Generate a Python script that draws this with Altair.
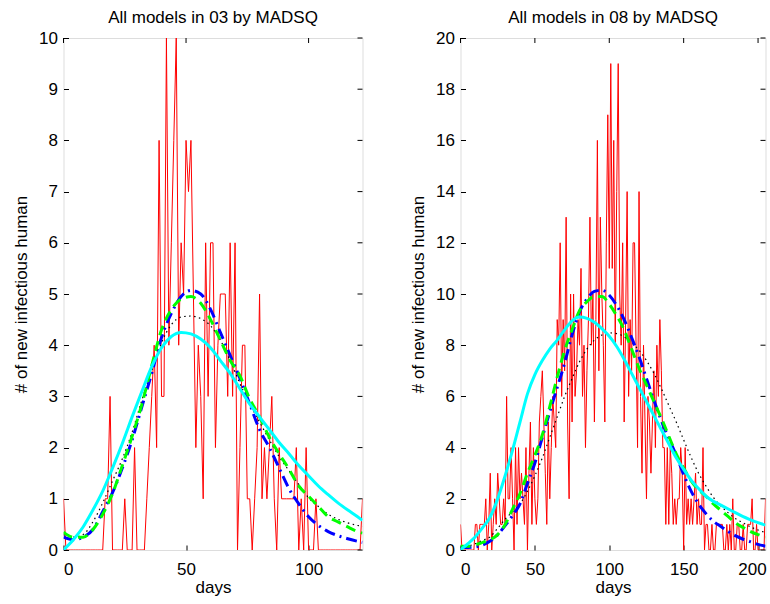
import altair as alt
import pandas as pd

FONT = "Liberation Sans"

# ---------------- Panel 03 (left) ----------------
obs03 = [1,
         0, 0, 0, 0, 0, 0, 0, 0, 0, 0, 0, 0, 0, 0, 0, 0,
         1, 1, 3,
         0, 0, 0, 0, 0,
         1,
         0, 0, 0,
         2,
         0, 0, 0, 0,
         1, 2, 3, 4, 2, 8, 3, 3, 10, 4, 6, 8, 10, 4, 6, 5, 8, 7, 8, 5, 2, 4, 3, 1, 6, 3,
         6, 6, 2, 4, 5, 5, 5, 3, 6, 3, 6, 0, 2, 4, 4, 1, 1, 0, 1, 2, 5, 1, 2, 1, 2, 3,
         1, 0, 2, 1, 1, 1, 1, 1, 1, 2, 0, 1, 0, 2, 0, 0, 0, 1,
         0, 0, 0, 0, 0, 0, 0, 0, 0, 0, 0, 0, 0, 0, 0, 0, 0, 0,
         1]
days03 = list(range(len(obs03)))

grid03 = [0, 4, 8, 12, 16, 20, 24, 28, 32, 36, 40, 44, 48, 52, 56, 60,
          64, 68, 72, 76, 80, 84, 88, 92, 96, 100, 104, 108, 112, 116, 120, 122]
cyan03 = [0.0, 0.2, 0.45, 0.78, 1.15, 1.6, 2.08, 2.6, 3.1, 3.58, 3.95, 4.17, 4.25, 4.22, 4.12, 3.95,
          3.7, 3.45, 3.15, 2.85, 2.6, 2.35, 2.1, 1.88, 1.65, 1.45, 1.25, 1.08, 0.92, 0.78, 0.65, 0.58]
blue03 = [0.25, 0.2, 0.25, 0.4, 0.75, 1.12, 1.6, 2.15, 2.8, 3.45, 4.15, 4.62, 4.95, 5.07, 5.0, 4.7,
          4.25, 3.8, 3.35, 2.85, 2.35, 2.0, 1.6, 1.2, 0.9, 0.65, 0.48, 0.36, 0.28, 0.22, 0.17, 0.15]
green03 = [0.35, 0.25, 0.25, 0.4, 0.7, 1.1, 1.65, 2.22, 2.85, 3.6, 4.3, 4.7, 4.9, 4.95, 4.82, 4.5,
           4.1, 3.7, 3.4, 2.95, 2.6, 2.2, 1.88, 1.58, 1.25, 1.05, 0.85, 0.65, 0.55, 0.45, 0.36, 0.33]
black03 = [0.3, 0.25, 0.3, 0.55, 0.92, 1.35, 1.78, 2.3, 2.93, 3.5, 4.05, 4.4, 4.55, 4.57, 4.52, 4.38,
           4.1, 3.7, 3.25, 2.85, 2.5, 2.15, 1.82, 1.55, 1.28, 1.02, 0.85, 0.7, 0.6, 0.53, 0.48, 0.46]
xticks03 = [0, 50, 100]
yticks03 = list(range(0, 11))

# ---------------- Panel 08 (right) ----------------
obs08 = [1, 0, 0, 0, 0, 0, 0, 0, 0, 0,
         1, 1, 0, 1, 1, 1, 1, 2, 0, 1,
         3, 0, 1, 2, 1, 3, 2, 1, 1, 2,
         1, 6, 2, 2, 4, 2, 0, 4, 1, 4,
         2, 3, 2, 1, 4, 0, 3, 5, 1, 4,
         2, 1, 2, 5, 6, 7, 5, 3, 1, 5,
         2, 4, 6, 5, 4, 9, 8, 12, 6, 9,
         7, 13, 5, 2, 10, 5, 10, 6, 7, 9,
         8, 11, 6, 8, 4, 7, 9, 13, 8, 10,
         5, 9, 16, 7, 13, 10, 8, 5, 12, 17,
         11, 19, 11, 16, 8, 14, 19, 10, 8, 12,
         5, 9, 14, 6, 9, 7, 12, 12, 8, 4,
         14, 6, 3, 8, 5, 2, 6, 5, 3, 5,
         7, 4, 8, 6, 9, 7, 4, 4, 1, 4,
         1, 4, 3, 1, 2, 1, 2, 2, 4, 3,
         0, 4, 1, 2, 1, 2, 1, 2, 3, 1,
         2, 1, 1, 4, 0, 1, 1, 0, 0, 1,
         0, 0, 1, 1, 1, 1, 1, 0, 0, 1,
         0, 1, 0, 2, 0, 0, 1, 1, 0, 0,
         1, 0, 0, 1, 1, 1, 2, 0, 0, 1,
         0, 0, 0, 0, 0, 2]
days08 = list(range(len(obs08)))

grid08 = list(range(0, 206, 5))
cyan08 = [0.0, 0.25, 0.52, 0.88, 1.3, 2.0, 2.9, 3.9, 5.0, 6.1, 6.85, 7.4, 7.85, 8.2, 8.6, 8.95, 9.1, 9.05,
          8.9, 8.65, 8.35, 7.95, 7.45, 6.9, 6.35, 5.8, 5.25, 4.7, 4.15, 3.6, 3.15, 2.73, 2.4, 2.1,
          1.9, 1.75, 1.6, 1.45, 1.3, 1.18, 1.07, 0.97]
blue08 = [0.1, 0.1, 0.12, 0.2, 0.35, 0.6, 0.95, 1.35, 1.8, 2.6, 3.4, 4.4, 5.4, 6.35, 7.3, 8.4, 9.3, 9.8,
          10.1, 10.15, 9.95, 9.55, 9.0, 8.3, 7.55, 6.7, 5.85, 5.05, 4.35, 3.7, 2.95, 2.3, 1.8, 1.42,
          1.12, 0.92, 0.72, 0.55, 0.42, 0.32, 0.22, 0.15]
green08 = [0.15, 0.15, 0.2, 0.3, 0.4, 0.6, 1.0, 1.6, 2.2, 3.0, 3.7, 4.5, 5.6, 6.75, 7.8, 8.6, 9.35, 9.7,
           9.9, 9.9, 9.6, 9.15, 8.6, 7.85, 7.1, 6.45, 5.8, 5.15, 4.45, 3.75, 3.2, 2.7, 2.35, 2.1,
           1.8, 1.55, 1.3, 1.05, 0.88, 0.72, 0.6, 0.5]
black08 = [0.1, 0.15, 0.25, 0.38, 0.52, 0.85, 1.2, 1.5, 1.8, 2.3, 2.9, 3.6, 4.4, 5.2, 6.0, 6.7, 7.35, 7.85,
           8.2, 8.4, 8.48, 8.45, 8.33, 8.1, 7.8, 7.4, 6.9, 6.3, 5.65, 5.0, 4.3, 3.62, 3.0, 2.5,
           2.05, 1.72, 1.45, 1.22, 1.06, 0.9, 0.78, 0.68]
xticks08 = [0, 50, 100, 150, 200]
yticks08 = list(range(0, 21, 2))

TICK = 5
FS = 17


def axis(orient, values, title, edge_label=None):
    kw = dict(orient=orient, values=values, offset=-TICK, tickSize=TICK, domain=False,
              grid=False, tickColor="black", tickWidth=1,
              labelFont=FONT, labelFontSize=FS, labelColor="black",
              titleFont=FONT, titleFontSize=FS, titleFontWeight="normal", titleColor="black",
              title=title)
    if orient == "bottom":
        kw.update(labelPadding=11, titlePadding=2)
        if edge_label is not None:
            # nudge the last label so it stays inside the picture
            kw["labelOffset"] = alt.condition(f"datum.value == {edge_label}", alt.value(-6), alt.value(0))
    else:
        kw.update(labelPadding=6, titlePadding=8)
    return alt.Axis(**kw)


def panel(title, days, obs, grid, cyan, blue, green, black, xmax, ymax, xticks, yticks, w, h,
          edge_label=None):
    xs = alt.Scale(domain=[0, xmax], nice=False, zero=False)
    ys = alt.Scale(domain=[0, ymax], nice=False, zero=False)
    odf = pd.DataFrame({"day": days, "value": obs})
    mdf = pd.DataFrame({"day": grid, "cyan": cyan, "blue": blue, "green": green, "black": black})
    xt = pd.DataFrame({"t": xticks})
    yt = pd.DataFrame({"t": yticks})

    red = alt.Chart(odf).mark_line(color="#ff0000", strokeWidth=1, clip=True).encode(
        x=alt.X("day:Q", scale=xs, axis=axis("bottom", xticks, "days", edge_label)),
        y=alt.Y("value:Q", scale=ys, axis=axis("left", yticks, "# of new infectious human")),
    )

    def model(field, color, width, dash=None):
        mk = dict(color=color, strokeWidth=width, clip=True, interpolate="monotone")
        if dash is not None:
            mk["strokeDash"] = dash
        return alt.Chart(mdf).mark_line(**mk).encode(
            x=alt.X("day:Q", scale=xs, axis=None),
            y=alt.Y(f"{field}:Q", scale=ys, axis=None),
        )

    # inward tick marks on the top and right edges of the box
    top_ticks = alt.Chart(xt).mark_rule(color="black", strokeWidth=1).encode(
        x=alt.X("t:Q", scale=xs, axis=None), y=alt.value(0), y2=alt.value(TICK))
    right_ticks = alt.Chart(yt).mark_rule(color="black", strokeWidth=1).encode(
        y=alt.Y("t:Q", scale=ys, axis=None), x=alt.value(w - TICK), x2=alt.value(w))

    layers = [
        red,
        model("black", "#000000", 1.2, [1.5, 3.5]),
        model("blue", "#0000ff", 3, [11, 5, 2, 5]),
        model("green", "#00ff00", 3, [10, 6]),
        model("cyan", "#00ffff", 3),
        top_ticks,
        right_ticks,
    ]
    return alt.layer(*layers).resolve_axis(x="independent", y="independent").properties(
        width=w, height=h,
        title=alt.Title(title, font=FONT, fontSize=FS, fontWeight="normal", color="black", offset=2.5),
    )


left = panel("All models in 03 by MADSQ", days03, obs03, grid03, cyan03, blue03, green03, black03,
             122, 10, xticks03, yticks03, 299, 512)
right = panel("All models in 08 by MADSQ", days08, obs08, grid08, cyan08, blue08, green08, black08,
              205, 20, xticks08, yticks08, 305, 512, edge_label=200)

chart = alt.hconcat(left, right, spacing=45).properties(
    padding={"left": 11.5, "top": 8, "right": 0, "bottom": 0},
    background="white",
).configure_view(stroke="black", strokeWidth=1).configure(font=FONT)

chart.save("out.html", embed_options={"renderer": "svg", "actions": False})
